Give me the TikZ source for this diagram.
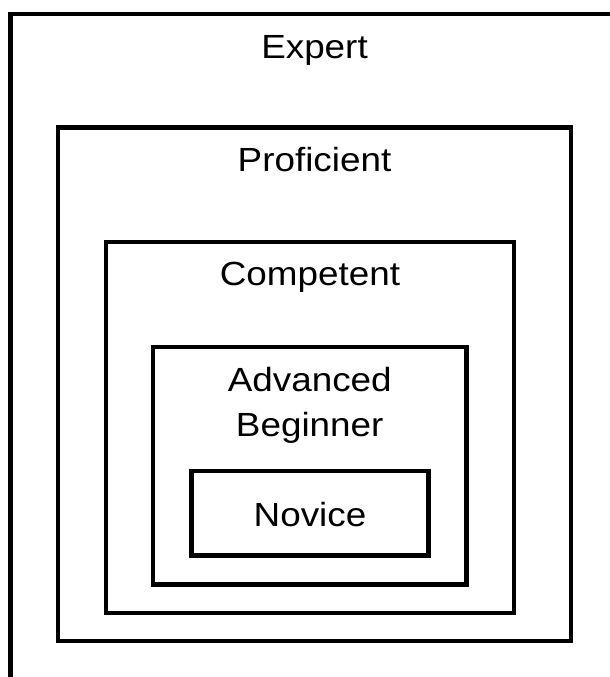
\documentclass[tikz,border=0pt]{standalone}
\usepackage{fontspec}
\setmainfont[FakeStretch=1.1]{Liberation Sans}
\begin{document}
\begin{tikzpicture}[x=1pt,y=1pt,
  box/.style={draw=black, line width=4.5pt, fill=none, inner sep=0pt, outer sep=0pt},
  lbl/.style={font=\fontsize{33.5}{40}\selectfont, inner sep=0pt, anchor=base, text=black}]
\useasboundingbox (0,0) rectangle (610,677);
\clip (0,0) rectangle (610,677);
\fill[white] (0,0) rectangle (610,677);
% boxes (centre lines in image pixels, y measured from top)
\node[box, minimum width=650pt, minimum height=700pt, anchor=north west] (expertbox) at (10.5,663) {};
\node[box, minimum width=513pt, minimum height=513.5pt, anchor=north west] (profbox) at (58,549.5) {};
\node[box, minimum width=408pt, minimum height=371pt, anchor=north west] (compbox) at (106,435) {};
\node[box, minimum width=313.5pt, minimum height=237.5pt, anchor=north west] (advbox) at (153,330) {};
\node[box, minimum width=237pt, minimum height=84.5pt, anchor=north west] (novbox) at (191.5,206) {};
% labels
\node[lbl] (expert) at (314.5,618) {Expert};
\node[lbl] (prof) at (314.5,505) {Proficient};
\node[lbl] (comp) at (310,391) {Competent};
\node[lbl] (adv1) at (309.75,285) {Advanced};
\node[lbl] (adv2) at (309.75,240) {Beginner};
\node[lbl] (novice) at (310,150) {Novice};
\end{tikzpicture}
\end{document}
